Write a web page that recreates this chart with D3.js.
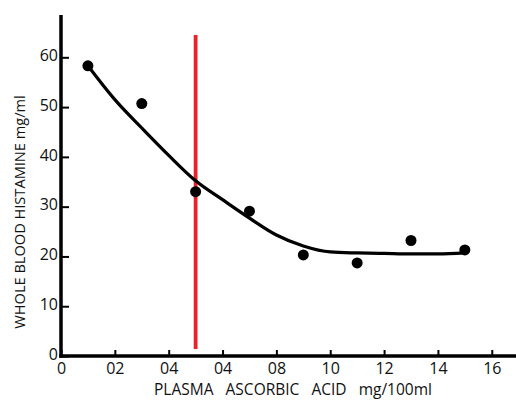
<!DOCTYPE html>
<html>
<head>
<meta charset="utf-8">
<script src="https://cdn.jsdelivr.net/npm/d3@7"></script>
<style>
  body { margin: 0; background: #fff; }
  text { font-family: "Open Sans", sans-serif; fill: #111; }
</style>
</head>
<body>
<div id="chart"></div>
<script>
// measured points
const acidValues = [1, 3, 5, 7, 9, 11, 13, 15];
const histamineValues = [58.3, 50.7, 33.0, 29.1, 20.3, 18.7, 23.2, 21.3];

// hand-drawn fit line
const curveX = [1, 2, 3, 4, 5, 6, 7, 8, 9, 10, 11, 12, 13, 14, 15];
const curveY = [58.3, 51.5, 45.8, 40.3, 35.2, 31.4, 27.7, 24.3, 22.1, 20.9, 20.7, 20.6, 20.5, 20.5, 20.7];

// red marker line
const markerX = 5;
const markerRange = [1.4, 64.5];

const xTicks = [0, 2, 4, 6, 8, 10, 12, 14, 16];
const xTickLabels = ["0", "02", "04", "04", "08", "10", "12", "14", "16"];
const yTicks = [0, 10, 20, 30, 40, 50, 60];

const width = 516, height = 400;

const svg = d3.select("#chart")
  .append("svg")
    .attr("width", width)
    .attr("height", height);

const xScale = d3.scaleLinear()
  .domain([0, 16.9])
  .range([61, 516]);

const yScale = d3.scaleLinear()
  .domain([0, 68.5])
  .range([356, 15]);

// axes
const xAxis = svg.append("g")
  .attr("transform", `translate(0, ${yScale(0)})`)
  .call(d3.axisBottom(xScale)
    .tickValues(xTicks)
    .tickFormat((d, i) => xTickLabels[i])
    .tickSizeInner(-6)
    .tickSizeOuter(0)
    .tickPadding(7));

xAxis.select(".domain")
  .attr("stroke", "#000")
  .attr("stroke-width", 3.5)
  .attr("d", `M${xScale(0) - 1.75},0H${width}`);

const yAxis = svg.append("g")
  .attr("transform", `translate(${xScale(0)}, 0)`)
  .call(d3.axisLeft(yScale)
    .tickValues(yTicks)
    .tickSizeInner(-8)
    .tickSizeOuter(0)
    .tickPadding(3));

yAxis.select(".domain")
  .attr("stroke", "#000")
  .attr("stroke-width", 3.5)
  .attr("d", `M0,${yScale(68.5)}V${yScale(0) + 1.75}`);

svg.selectAll(".tick line")
  .attr("stroke", "#000")
  .attr("stroke-width", 2);

svg.selectAll(".tick text")
  .style("font-size", "16px")
  .attr("fill", "#111");

yAxis.selectAll(".tick text").attr("dy", "0.2em");

// axis titles
svg.append("text")
  .attr("transform", "rotate(-90)")
  .attr("x", -212)
  .attr("y", 25)
  .attr("text-anchor", "middle")
  .style("font-size", "14.6px")
  .text("WHOLE BLOOD HISTAMINE mg/ml");

svg.append("text")
  .attr("x", 293)
  .attr("y", 395)
  .attr("text-anchor", "middle")
  .style("font-size", "15.5px")
  .style("white-space", "pre")
  .text("PLASMA   ASCORBIC   ACID   mg/100ml");

// red line
svg.append("line")
  .attr("x1", xScale(markerX))
  .attr("x2", xScale(markerX))
  .attr("y1", yScale(markerRange[0]))
  .attr("y2", yScale(markerRange[1]))
  .attr("stroke", "#e8212b")
  .attr("stroke-width", 3.8);

// fit curve
const curvePoints = curveX.map((x, i) => [x, curveY[i]]);

const lineGenerator = d3.line()
  .x(d => xScale(d[0]))
  .y(d => yScale(d[1]))
  .curve(d3.curveMonotoneX);

svg.append("path")
  .datum(curvePoints)
  .attr("fill", "none")
  .attr("stroke", "#000")
  .attr("stroke-width", 3.2)
  .attr("stroke-linecap", "round")
  .attr("d", lineGenerator);

// dots
svg.selectAll("circle")
  .data(acidValues.map((x, i) => ({ x, y: histamineValues[i] })))
  .enter()
  .append("circle")
    .attr("cx", d => xScale(d.x))
    .attr("cy", d => yScale(d.y))
    .attr("r", 5.5)
    .attr("fill", "#000");
</script>
</body>
</html>
